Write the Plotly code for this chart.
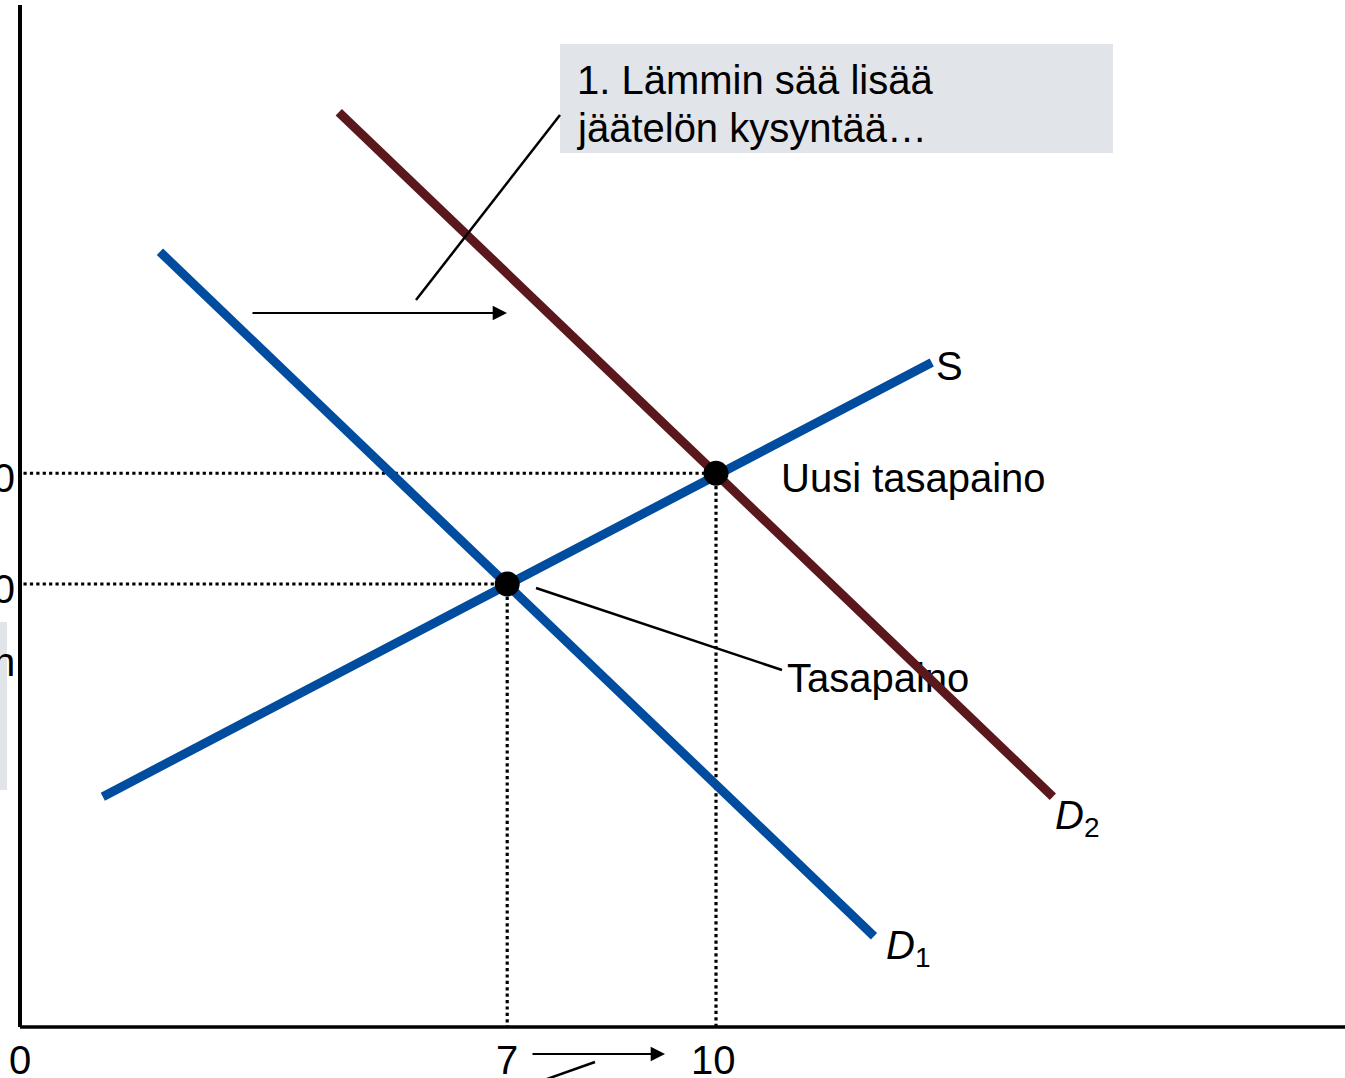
import plotly.graph_objects as go

# ---------------- data ----------------
quantity_ticks = [0, 7, 10]
quantity_labels = ["0", "7", "10"]
price_ticks = [2.5, 2.0]
price_labels = ["$2.50", "$2.00"]

eq_q = [7, 10]
eq_p = [2.0, 2.5]

supply_q = [1.19, 13.10]
supply_p = [1.04, 3.00]
d1_q = [2.01, 12.27]
d1_p = [3.50, 0.41]
d2_q = [4.58, 14.84]
d2_p = [4.13, 1.04]

box_lines = ["1. Lämmin sää lisää", "jäätelön kysyntää…"]

# ---------------- layout helpers (pixel -> data) ----------------
W, H = 1345, 1078
X0, XS = 20.0, 69.6
Y0, YS = 1027.0, 221.5


def qx(px):
    return (px - X0) / XS


def py(p):
    return (Y0 - p) / YS


FONT = "Arial, Liberation Sans, sans-serif"
FS = 40
BLUE = "#004C9E"
MAROON = "#5A171C"
GREY = "#E1E4E8"

fig = go.Figure()

# "Tasapaino" label drawn beneath the D2 line
fig.add_trace(go.Scatter(x=[qx(787)], y=[py(682)], mode="text", text=["Tasapaino"],
                         textposition="middle right",
                         textfont=dict(family=FONT, size=FS, color="black"),
                         hoverinfo="skip"))

# dotted guides
for q, p in zip(eq_q, eq_p):
    fig.add_trace(go.Scatter(x=[0.05, q], y=[p, p], mode="lines",
                             line=dict(color="black", width=3.2, dash="dot"), hoverinfo="skip"))
    fig.add_trace(go.Scatter(x=[q, q], y=[p, 0], mode="lines",
                             line=dict(color="black", width=3.2, dash="dot"), hoverinfo="skip"))

fig.add_trace(go.Scatter(x=supply_q, y=supply_p, mode="lines", line=dict(color=BLUE, width=9)))
fig.add_trace(go.Scatter(x=d1_q, y=d1_p, mode="lines", line=dict(color=BLUE, width=9)))
fig.add_trace(go.Scatter(x=d2_q, y=d2_p, mode="lines", line=dict(color=MAROON, width=9)))

fig.add_trace(go.Scatter(x=eq_q, y=eq_p, mode="markers",
                         marker=dict(color="black", size=25), hoverinfo="skip"))

shapes = [
    # grey boxes
    dict(type="rect", xref="x", yref="y", x0=qx(560), x1=qx(1113), y0=py(153), y1=py(44),
         fillcolor=GREY, line=dict(width=0), layer="below"),
    dict(type="rect", xref="x", yref="y", x0=qx(-10), x1=qx(7), y0=py(790), y1=py(622),
         fillcolor=GREY, line=dict(width=0), layer="below"),
    # axes
    dict(type="line", xref="x", yref="y", x0=0, x1=0, y0=0, y1=py(5),
         line=dict(color="black", width=4)),
    dict(type="line", xref="x", yref="y", x0=0, x1=qx(W + 5), y0=0, y1=0,
         line=dict(color="black", width=3.5)),
    # pointer lines
    dict(type="line", xref="x", yref="y", x0=qx(560), y0=py(115), x1=qx(416), y1=py(300),
         line=dict(color="black", width=2.5)),
    dict(type="line", xref="x", yref="y", x0=qx(536), y0=py(588), x1=qx(782), y1=py(670),
         line=dict(color="black", width=2.5)),
    dict(type="line", xref="x", yref="y", x0=qx(530), y0=py(1085), x1=qx(595), y1=py(1062),
         line=dict(color="black", width=2.5)),
]

ann = []
# quantity tick labels
for q, lab in zip(quantity_ticks, quantity_labels):
    ann.append(dict(x=q, y=py(1060), text=lab, showarrow=False, xanchor="center", yanchor="middle",
                    xshift=(-3 if lab == "10" else 0),
                    font=dict(family=FONT, size=FS, color="black")))
# price tick labels (cut off by the left edge)
for p, lab in zip(price_ticks, price_labels):
    ann.append(dict(x=qx(17), y=p, text=lab, showarrow=False, xanchor="right", yanchor="middle",
                    yshift=-5, font=dict(family=FONT, size=FS, color="black")))
ann.append(dict(x=qx(17), y=py(662), text="…hintaan", showarrow=False, xanchor="right",
                yanchor="middle", font=dict(family=FONT, size=FS, color="black")))

for i, line in enumerate(box_lines):
    ann.append(dict(x=qx(575), y=py(80 + 48 * i), text=line, showarrow=False,
                    xanchor="left", yanchor="middle", align="left",
                    font=dict(family=FONT, size=FS, color="black")))

ann += [
    dict(x=qx(934), y=py(366), text="S", showarrow=False, xanchor="left", yanchor="middle",
         font=dict(family=FONT, size=FS, color="black")),
    dict(x=qx(779), y=py(478), text="Uusi tasapaino", showarrow=False, xanchor="left", yanchor="middle",
         font=dict(family=FONT, size=FS, color="black")),
    dict(x=qx(884), y=py(948), text="<i>D</i><sub>1</sub>", showarrow=False, xanchor="left",
         yanchor="middle", font=dict(family=FONT, size=FS, color="black")),
    dict(x=qx(1053), y=py(818), text="<i>D</i><sub>2</sub>", showarrow=False, xanchor="left",
         yanchor="middle", font=dict(family=FONT, size=FS, color="black")),
    # shift arrow
    dict(x=qx(507), y=py(313), ax=qx(251), ay=py(313), axref="x", ayref="y", xref="x", yref="y",
         text="", showarrow=True, arrowhead=2, arrowsize=1.3, arrowwidth=2.2, arrowcolor="black"),
    # quantity arrow
    dict(x=qx(665), y=py(1054), ax=qx(531), ay=py(1054), axref="x", ayref="y", xref="x", yref="y",
         text="", showarrow=True, arrowhead=2, arrowsize=1.3, arrowwidth=2.2, arrowcolor="black"),
]

fig.update_layout(
    width=W, height=H,
    margin=dict(l=0, r=0, t=0, b=0, pad=0),
    paper_bgcolor="white", plot_bgcolor="white",
    showlegend=False,
    xaxis=dict(range=[qx(0), qx(W)], visible=False, fixedrange=True),
    yaxis=dict(range=[py(H), py(0)], visible=False, fixedrange=True),
    shapes=shapes, annotations=ann,
)

fig.write_html("out.html", config={"displayModeBar": False},
               post_script="document.body.style.margin='0px';document.body.style.overflow='hidden';")
